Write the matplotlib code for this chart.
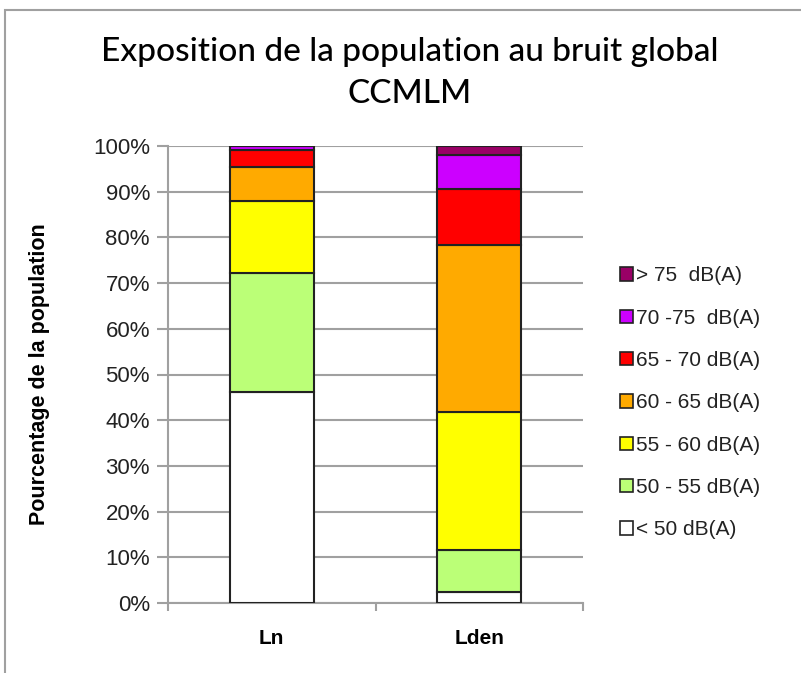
import matplotlib
matplotlib.use('Agg')
import matplotlib.pyplot as plt
from matplotlib.patches import Rectangle, Patch
from matplotlib.ticker import PercentFormatter

# data (percent of population)
categories = ['Ln', 'Lden']
classes = ['< 50 dB(A)', '50 - 55 dB(A)', '55 - 60 dB(A)', '60 - 65 dB(A)',
           '65 - 70 dB(A)', '70 -75  dB(A)', '> 75  dB(A)']
ln_values = [46.2, 26.0, 15.8, 7.3, 3.8, 0.8, 0.1]
lden_values = [2.4, 9.2, 30.2, 36.5, 12.2, 7.6, 1.9]
colors = ['#ffffff', '#bbff77', '#ffff00', '#ffaa00', '#ff0000', '#cc00ff', '#990066']

plt.rcParams['font.family'] = ['Liberation Sans', 'DejaVu Sans']

fig = plt.figure(figsize=(8.01, 6.73), dpi=100)
# outer chart frame
fig.patches.append(Rectangle((5/801, -0.05), 1.1, 1 - 10/673 + 0.05, transform=fig.transFigure,
                             fill=False, edgecolor='#a0a0a0', linewidth=1.5))

ax = fig.add_axes([168/801, 1 - 603/673, 415/801, 457/673])

x = range(len(categories))
bottom = [0, 0]
for i, lab in enumerate(classes):
    vals = [ln_values[i], lden_values[i]]
    ax.bar(x, vals, width=0.405, bottom=bottom, color=colors[i],
           edgecolor='#222222', linewidth=1.5, label=lab, zorder=3)
    bottom = [bottom[0] + vals[0], bottom[1] + vals[1]]

ax.set_xlim(-0.5, 1.5)
ax.set_ylim(0, 100)
ax.set_yticks(range(0, 101, 10))
ax.yaxis.set_major_formatter(PercentFormatter(decimals=0))
ax.yaxis.grid(True, color='#a0a0a0', linewidth=1.5, zorder=0)
ax.set_xticks([-0.5, 0.5, 1.5])
ax.set_xticklabels([])
ax.set_xticks([0, 1], minor=True)
ax.set_xticklabels(categories, minor=True, fontweight='bold', fontsize=15)
ax.tick_params(axis='x', which='minor', length=0, pad=19)
ax.tick_params(axis='x', which='major', length=6, color='#a0a0a0', width=1.5)
ax.tick_params(axis='y', length=8, color='#a0a0a0', width=1.5, labelsize=16,
               labelcolor='#222222', pad=5)
for s in ['top', 'right']:
    ax.spines[s].set_visible(False)
for s in ['left', 'bottom']:
    ax.spines[s].set_color('#a0a0a0')
    ax.spines[s].set_linewidth(1.5)

ax.set_ylabel('Pourcentage de la population', fontweight='bold', fontsize=15.5)
ax.yaxis.set_label_coords(-0.285, 0.5)

handles = [Patch(facecolor=colors[i], edgecolor='#222222', linewidth=1.2, label=classes[i])
           for i in range(len(classes))][::-1]
leg = fig.legend(handles=handles, loc='upper left', bbox_to_anchor=(612/801, 1 - 258/673),
                 frameon=False, fontsize=15, handlelength=0.6, handleheight=0.6,
                 handletextpad=0.15, labelspacing=1.12, borderaxespad=0)
for t in leg.get_texts():
    t.set_color('#222222')

fig.text(410/801, 1 - 61/673, 'Exposition de la population au bruit global',
         ha='center', va='baseline', fontsize=24, family='Lato', fontweight='medium',
         color='#000000')
fig.text(410/801, 1 - 103/673, 'CCMLM',
         ha='center', va='baseline', fontsize=24, family='Lato', fontweight='medium',
         color='#000000')

fig.savefig('out.png', dpi=100)
